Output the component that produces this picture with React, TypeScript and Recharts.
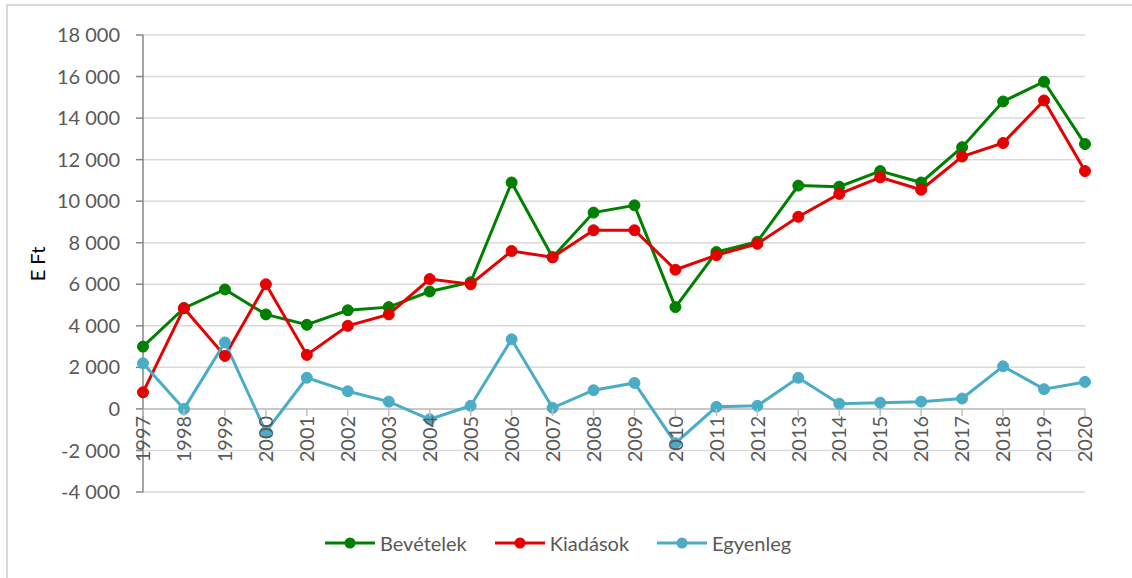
import React from "react";
import {
  LineChart,
  Line,
  XAxis,
  YAxis,
  CartesianGrid,
  ReferenceLine,
  Legend,
} from "recharts";

// adatok
const years = [
  "1997", "1998", "1999", "2000", "2001", "2002", "2003", "2004",
  "2005", "2006", "2007", "2008", "2009", "2010", "2011", "2012",
  "2013", "2014", "2015", "2016", "2017", "2018", "2019", "2020",
];
const bevetelek = [
  3000, 4850, 5750, 4550, 4050, 4750, 4900, 5650, 6100, 10900, 7300, 9450,
  9800, 4900, 7550, 8050, 10750, 10700, 11450, 10900, 12600, 14800, 15750, 12750,
];
const kiadasok = [
  800, 4850, 2550, 6000, 2600, 4000, 4550, 6250, 6000, 7600, 7300, 8600,
  8600, 6700, 7400, 7950, 9250, 10350, 11150, 10550, 12150, 12800, 14850, 11450,
];
const egyenleg = [
  2200, 0, 3200, -1100, 1500, 850, 350, -500, 150, 3350, 50, 900,
  1250, -1650, 100, 150, 1500, 250, 300, 350, 500, 2050, 950, 1300,
];
const yTicks = [
  -4000, -2000, 0, 2000, 4000, 6000, 8000, 10000, 12000, 14000, 16000, 18000,
];

const series = [
  { key: "bev", name: "Bevételek", color: "#008000" },
  { key: "kia", name: "Kiadások", color: "#e60000" },
  { key: "egy", name: "Egyenleg", color: "#4bacc6" },
];

const data = years.map((year, i) => ({
  year,
  bev: bevetelek[i],
  kia: kiadasok[i],
  egy: egyenleg[i],
}));

const W = 1132;
const H = 578;
const X_AXIS_H = 2;
const MARGIN = { top: 35, right: 47, bottom: 84, left: 23 };
const Y_MIN = -4000;
const Y_MAX = 18000;
const PLOT_BOTTOM = H - MARGIN.bottom - X_AXIS_H;
const ZERO_Y =
  MARGIN.top + ((Y_MAX - 0) / (Y_MAX - Y_MIN)) * (PLOT_BOTTOM - MARGIN.top);

const FONT = "Lato, 'Open Sans', sans-serif";
const TEXT = "#595959";

const fmt = (v: number) => {
  const s = Math.abs(v).toString().replace(/\B(?=(\d{3})+(?!\d))/g, " ");
  return v < 0 ? "-" + s : s;
};

// kategóriatengely a nullánál
const XTick = (props: any) => {
  const { x, payload } = props;
  return (
    <g>
      <line x1={x} x2={x} y1={ZERO_Y} y2={ZERO_Y + 7} stroke="#bfbfbf" strokeWidth={1.5} />
      <text
        transform={`translate(${x},${ZERO_Y + 7}) rotate(-90)`}
        textAnchor="end"
        dy="0.36em"
        fontSize={20}
        fill={TEXT}
        fontFamily={FONT}
      >
        {payload.value}
      </text>
    </g>
  );
};

const renderLegend = () => (
  <div style={{ display: "flex", alignItems: "center", fontFamily: FONT }}>
    {series.map((s, i) => (
      <div
        key={s.key}
        style={{ display: "flex", alignItems: "center", marginLeft: i ? 28 : 0 }}
      >
        <svg width={50} height={14}>
          <line x1={0} x2={50} y1={7} y2={7} stroke={s.color} strokeWidth={3} />
          <circle cx={25} cy={7} r={5.5} fill={s.color} />
        </svg>
        <span style={{ fontSize: 20, color: TEXT, marginLeft: 5 }}>{s.name}</span>
      </div>
    ))}
  </div>
);

export default function App() {
  return (
    <div style={{ position: "absolute", left: 0, top: 0, width: W, height: H }}>
      <div
        style={{
          position: "absolute",
          left: 6,
          top: 4,
          width: W - 6,
          height: H - 4,
          boxSizing: "border-box",
          borderTop: "2px solid #d9d9d9",
          borderLeft: "2px solid #d9d9d9",
        }}
      />
      <LineChart
        width={W}
        height={H}
        data={data}
        margin={MARGIN}
        style={{ fontFamily: FONT }}
      >
        <CartesianGrid vertical={false} stroke="#d9d9d9" strokeWidth={1.5} />
        <XAxis
          dataKey="year"
          height={X_AXIS_H}
          axisLine={false}
          tickLine={false}
          interval={0}
          tick={(p: any) => <XTick {...p} />}
        />
        <YAxis
          width={120}
          domain={[Y_MIN, Y_MAX]}
          ticks={yTicks}
          tickFormatter={fmt}
          axisLine={{ stroke: "#868686", strokeWidth: 1.5 }}
          tickLine={{ stroke: "#868686", strokeWidth: 1.5 }}
          tickSize={7}
          tickMargin={16}
          tick={{ fontSize: 20, fill: TEXT, fontFamily: FONT }}
          label={{
            content: () => (
              <text
                x={37}
                y={264}
                transform="rotate(-90 37 264)"
                textAnchor="middle"
                dominantBaseline="central"
                fontSize={20}
                fill="#000"
                fontFamily={FONT}
              >
                E Ft
              </text>
            ),
          }}
        />
        <ReferenceLine y={0} stroke="#bfbfbf" strokeWidth={1.5} />
        {series.map((s) => (
          <Line
            key={s.key}
            type="linear"
            dataKey={s.key}
            name={s.name}
            stroke={s.color}
            strokeWidth={3}
            dot={{ r: 5.5, fill: s.color, stroke: s.color, strokeWidth: 1 }}
            activeDot={false}
            isAnimationActive={false}
          />
        ))}
        <Legend
          layout="horizontal"
          verticalAlign="middle"
          align="center"
          content={renderLegend}
          wrapperStyle={{ left: 325, top: 531, width: "auto", height: 24 }}
        />
      </LineChart>
    </div>
  );
}
